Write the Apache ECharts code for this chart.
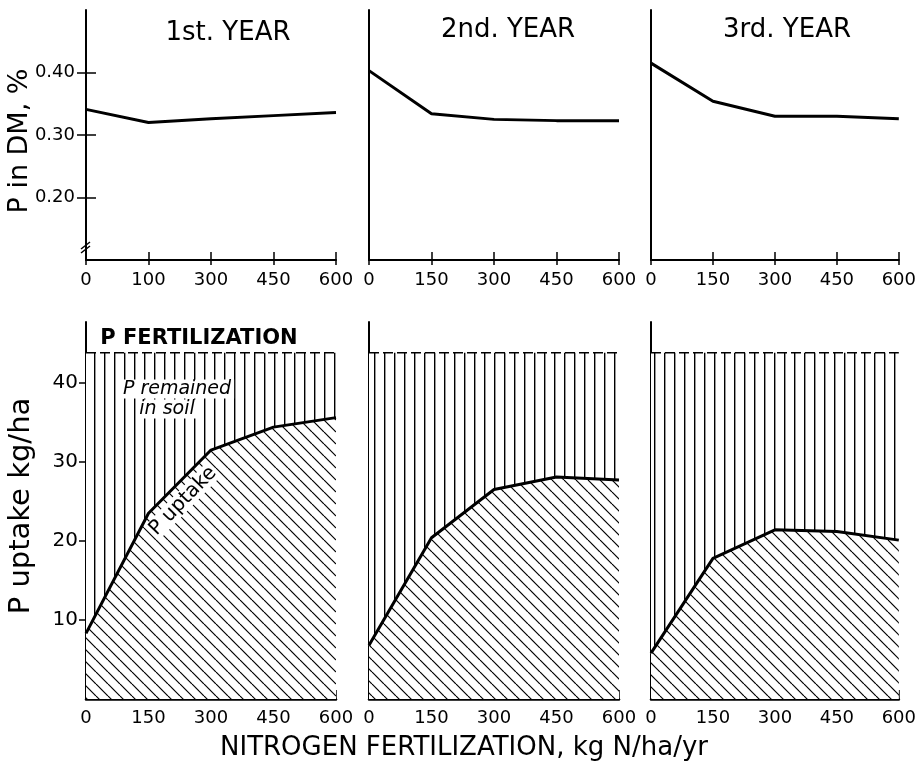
<!DOCTYPE html>
<html><head><meta charset="utf-8">
<script src="https://cdn.jsdelivr.net/npm/echarts@6/dist/echarts.min.js"></script>
<style>html,body{margin:0;padding:0;background:#fff}#c{width:919px;height:765px}</style>
</head><body><div id="c"></div>
<script>
// ---- data ----
const topCats1 = ['0','100','300','450','600'];
const topCats2 = ['0','150','300','450','600'];
const topCats3 = ['0','150','300','450','600'];
const botCats = ['0','150','300','450','600'];
const pDM1 = [0.341, 0.320, 0.326, 0.331, 0.336];
const pDM2 = [0.403, 0.334, 0.325, 0.323, 0.323];
const pDM3 = [0.415, 0.354, 0.330, 0.330, 0.326];
const uptake1 = [8.3, 23.5, 31.5, 34.4, 35.6];
const uptake2 = [6.8, 20.4, 26.5, 28.1, 27.7];
const uptake3 = [5.8, 17.8, 21.4, 21.2, 20.1];
const pFert1 = [43.8, 43.8, 43.8, 43.8, 43.8];
const pFert2 = [43.8, 43.8, 43.8, 43.8, 43.8];
const pFert3 = [43.8, 43.8, 43.8, 43.8, 43.8];
const yearTitles = ['1st. YEAR', '2nd. YEAR', '3rd. YEAR'];
const topYTicks = [0.2, 0.3, 0.4];
const botYTicks = [10, 20, 30, 40];

// ---- patterns ----
function vPattern() {
  const c = document.createElement('canvas'); c.width = 10; c.height = 10;
  const g = c.getContext('2d'); g.fillStyle = '#fff'; g.fillRect(0,0,10,10);
  g.fillStyle = '#000'; g.fillRect(4, 0, 1.4, 10); return c;
}
function dPattern() {
  const s = 12;
  const c = document.createElement('canvas'); c.width = s; c.height = s;
  const g = c.getContext('2d'); g.fillStyle = '#fff'; g.fillRect(0,0,s,s);
  g.strokeStyle = '#000'; g.lineWidth = 1.2;
  for (const x0 of [-s, 0, s]) { g.beginPath(); g.moveTo(x0, 0); g.lineTo(x0 + s, s); g.stroke(); }
  return c;
}
const VP = vPattern(), DP = dPattern();

const FONT = 'DejaVu Sans';
const chart = echarts.init(document.getElementById('c'));

const topGrids = [
  {left: 86, top: 10, width: 250, height: 250},
  {left: 369, top: 10, width: 250, height: 250},
  {left: 651, top: 10, width: 252, height: 250}
];
const botGrids = [
  {left: 86, top: 322, width: 250, height: 377},
  {left: 369, top: 322, width: 250, height: 377},
  {left: 651, top: 322, width: 252, height: 377}
];
const topCatsArr = [topCats1, topCats2, topCats3];
const pDMArr = [pDM1, pDM2, pDM3];
const upArr = [uptake1, uptake2, uptake3];
const fertArr = [pFert1, pFert2, pFert3];

const grid = [...topGrids, ...botGrids];
const xAxis = [], yAxis = [], series = [];
const lblStyle = {color: '#000', fontFamily: FONT, fontSize: 18};

// top panels
for (let i = 0; i < 3; i++) {
  const xi = xAxis.length;
  xAxis.push({gridIndex: i, type: 'category', data: topCatsArr[i], boundaryGap: false, position: 'bottom',
    axisLine: {onZero: false, lineStyle: {color: '#000', width: 2}},
    axisTick: {inside: true, length: 8, lineStyle: {color: '#000', width: 1.5}},
    axisLabel: Object.assign({margin: 11}, lblStyle), splitLine: {show: false}});
  xAxis.push({gridIndex: i, type: 'category', data: topCatsArr[i], boundaryGap: false, position: 'bottom',
    axisLine: {show: false}, axisTick: {length: 5, lineStyle: {color: '#000', width: 1.5}},
    axisLabel: {show: false}, splitLine: {show: false}});
  const yi = yAxis.length;
  yAxis.push({gridIndex: i, type: 'value', min: 0.1, max: 0.5, position: 'left',
    axisLine: {show: true, lineStyle: {color: '#000', width: 2}},
    axisTick: {show: i === 0, length: 9, customValues: topYTicks, lineStyle: {color: '#000', width: 1.5}},
    axisLabel: Object.assign({show: i === 0, margin: 11, customValues: topYTicks,
      formatter: v => v.toFixed(2)}, lblStyle, {fontSize: 18}),
    splitLine: {show: false}});
  if (i === 0) {
    yAxis.push({gridIndex: i, type: 'value', min: 0.1, max: 0.5, position: 'left',
      axisLine: {show: false}, axisTick: {show: true, inside: true, length: 10, customValues: topYTicks,
      lineStyle: {color: '#000', width: 1.5}}, axisLabel: {show: false}, splitLine: {show: false}});
  }
  series.push({type: 'line', xAxisIndex: xi, yAxisIndex: yi, data: pDMArr[i], showSymbol: false,
    lineStyle: {color: '#000', width: 3}, silent: true});
}
// bottom panels
for (let i = 0; i < 3; i++) {
  const gi = 3 + i;
  const xi = xAxis.length;
  xAxis.push({gridIndex: gi, type: 'category', data: botCats, boundaryGap: false, position: 'bottom',
    axisLine: {onZero: false, lineStyle: {color: '#000', width: 2.5}},
    axisTick: {inside: true, length: 9, lineStyle: {color: '#000', width: 1.5}},
    axisLabel: Object.assign({margin: 10}, lblStyle), splitLine: {show: false}});
  const yi = yAxis.length;
  yAxis.push({gridIndex: gi, type: 'value', min: 0, max: 47.7, position: 'left',
    axisLine: {show: true, lineStyle: {color: '#000', width: 2}},
    axisTick: {show: i === 0, length: 7, customValues: botYTicks, lineStyle: {color: '#000', width: 1.5}},
    axisLabel: Object.assign({show: i === 0, margin: 8, customValues: botYTicks}, lblStyle, {fontSize: 20}),
    splitLine: {show: false}});
  const up = upArr[i], fert = fertArr[i];
  series.push({type: 'line', xAxisIndex: xi, yAxisIndex: yi, stack: 'b' + i, data: up, showSymbol: false, z: 4,
    lineStyle: {color: '#000', width: 3}, areaStyle: {color: {image: DP, repeat: 'repeat'}, opacity: 1}, silent: true});
  series.push({type: 'line', xAxisIndex: xi, yAxisIndex: yi, stack: 'b' + i, data: fert.map((f, k) => +(f - up[k]).toFixed(2)),
    showSymbol: false, z: 3,
    lineStyle: {color: '#000', width: 1.5, type: [10, 4]}, areaStyle: {color: {image: VP, repeat: 'repeat'}, opacity: 1}, silent: true});
}

const textEl = (text, x, y, size, extra) => Object.assign({type: 'text', z: 100, x: x, y: y,
  style: Object.assign({text: text, fill: '#000', font: size + 'px "' + FONT + '"', textAlign: 'center', textVerticalAlign: 'middle'}, extra && extra.style || {})},
  extra ? {rotation: extra.rotation || 0} : {});

const graphic = [
  textEl(yearTitles[0], 228, 33, 26),
  textEl(yearTitles[1], 508, 30, 26),
  textEl(yearTitles[2], 787, 30, 26),
  textEl('P in DM, %', 20, 141, 27, {rotation: Math.PI / 2}),
  textEl('P uptake kg/ha', 21, 506, 29, {rotation: Math.PI / 2}),
  textEl('NITROGEN FERTILIZATION, kg N/ha/yr', 464, 748, 26),
  textEl('P FERTILIZATION', 199, 339, 21, {style: {font: 'bold 21px "' + FONT + '"', backgroundColor: '#fff', padding: [0, 2]}}),
  textEl('P remained', 177, 389, 19, {style: {font: 'italic 19px "' + FONT + '"', backgroundColor: '#fff', padding: [0, 3]}}),
  textEl('in soil', 167, 409, 19, {style: {font: 'italic 19px "' + FONT + '"', backgroundColor: '#fff', padding: [0, 3]}}),
  textEl('P uptake', 183, 501, 20, {rotation: 46 * Math.PI / 180, style: {backgroundColor: '#fff', padding: [0, 2]}}),
  {type: 'line', z: 100, shape: {x1: 81, y1: 249, x2: 90, y2: 242}, style: {stroke: '#000', lineWidth: 1.5}},
  {type: 'line', z: 100, shape: {x1: 81, y1: 253, x2: 90, y2: 246}, style: {stroke: '#000', lineWidth: 1.5}}
];

chart.setOption({animation: false, backgroundColor: '#fff', grid, xAxis, yAxis, series, graphic});
</script></body></html>
